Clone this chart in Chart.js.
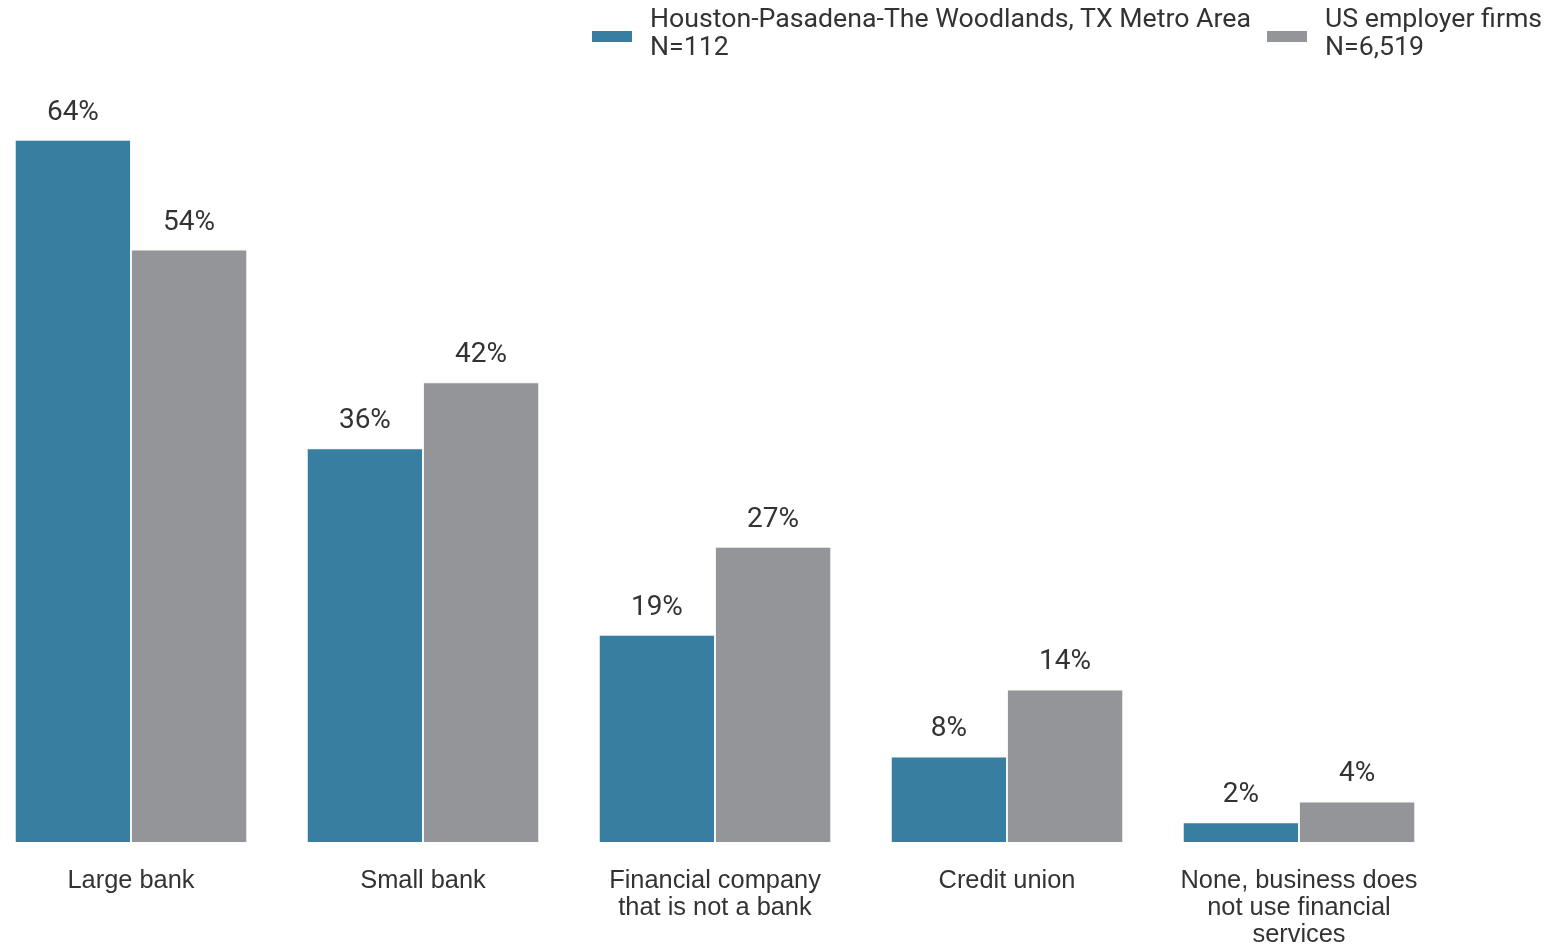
<!DOCTYPE html>
<html>
<head>
<meta charset="utf-8">
<script src="https://cdn.jsdelivr.net/npm/chart.js@4"></script>
<style>
    html, body { margin: 0; padding: 0; background: #fff; overflow: hidden; }
    body { width: 1553px; height: 947px; position: relative; }
    .chart-wrap { position: absolute; left: -15px; top: 0; width: 1460px; height: 947px; }
    .legend { position: absolute; top: 4px; left: 592px; font-family: Roboto, sans-serif; font-size: 26.7px; color: #333; line-height: 28px; }
    .legend-item { position: absolute; top: 0; white-space: nowrap; }
    .legend-item .swatch { position: absolute; left: 0; top: 27px; width: 40px; height: 11px; }
    .legend-item .label { position: absolute; left: 58px; top: 0; }
</style>
</head>
<body>
<div class="chart-wrap"><canvas id="barChart"></canvas></div>
<div class="legend" id="legend"></div>
<script>
const categories = [
    'Large bank',
    'Small bank',
    ['Financial company', 'that is not a bank'],
    'Credit union',
    ['None, business does', 'not use financial', 'services']
];
const seriesNames = ['Houston-Pasadena-The Woodlands, TX Metro Area', 'US employer firms'];
const seriesNotes = ['N=112', 'N=6,519'];
const houstonValues = [64.0, 35.9, 18.9, 7.8, 1.8];
const usValues = [54.0, 41.9, 26.9, 13.9, 3.7];
const seriesColors = ['#387ea0', '#939598'];

// legend dibuat di HTML supaya bisa dua baris
const legendEl = document.getElementById('legend');
const legendOffsets = [0, 675];
seriesNames.forEach((name, i) => {
    const item = document.createElement('div');
    item.className = 'legend-item';
    item.style.left = legendOffsets[i] + 'px';
    item.innerHTML = '<div class="swatch" style="background:' + seriesColors[i] + '"></div>' +
        '<div class="label">' + name + '<br>' + seriesNotes[i] + '</div>';
    legendEl.appendChild(item);
});

const valueLabels = {
    id: 'valueLabels',
    afterDatasetsDraw(chart) {
        const ctx = chart.ctx;
        ctx.save();
        ctx.font = '28px Roboto, sans-serif';
        ctx.fillStyle = '#333333';
        ctx.textAlign = 'center';
        ctx.textBaseline = 'alphabetic';
        chart.data.datasets.forEach((ds, di) => {
            chart.getDatasetMeta(di).data.forEach((bar, i) => {
                ctx.fillText(Math.round(ds.data[i]) + '%', bar.x, bar.y - 20);
            });
        });
        ctx.restore();
    }
};

const ctx = document.getElementById('barChart').getContext('2d');
new Chart(ctx, {
    type: 'bar',
    data: {
        labels: categories,
        datasets: [{
            label: seriesNames[0],
            data: houstonValues,
            backgroundColor: seriesColors[0],
            borderColor: '#f4f6f8',
            borderWidth: 1,
            categoryPercentage: 0.796,
            barPercentage: 1.0
        }, {
            label: seriesNames[1],
            data: usValues,
            backgroundColor: seriesColors[1],
            borderColor: '#f4f4f4',
            borderWidth: 1,
            categoryPercentage: 0.796,
            barPercentage: 1.0
        }]
    },
    options: {
        responsive: true,
        maintainAspectRatio: false,
        animation: false,
        layout: { padding: { top: 74, left: 0, right: 0, bottom: 0 } },
        plugins: {
            legend: { display: false },
            tooltip: { enabled: false }
        },
        scales: {
            x: {
                grid: { display: false, drawTicks: false },
                border: { display: false },
                ticks: {
                    color: '#333333',
                    padding: 25,
                    maxRotation: 0,
                    autoSkip: false,
                    font: { family: '"Liberation Sans", Arial, sans-serif', size: 25.4, lineHeight: '27px' }
                },
                afterFit(scale) { scale.height = 105; }
            },
            y: {
                display: false,
                min: 0,
                max: 70
            }
        }
    },
    plugins: [valueLabels]
});
</script>
</body>
</html>
